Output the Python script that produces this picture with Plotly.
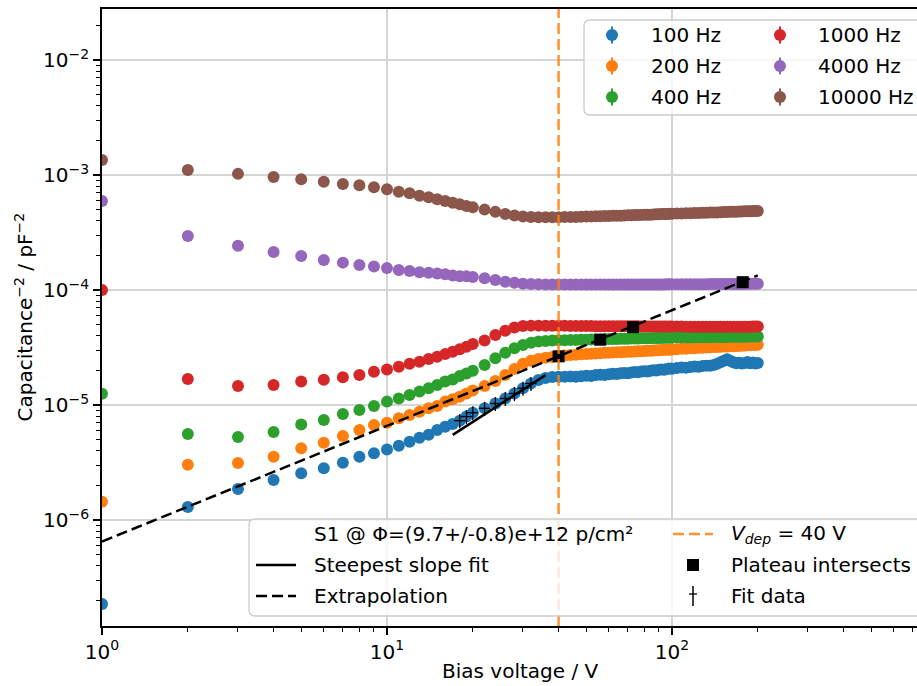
import plotly.graph_objects as go

# ---------------- data ----------------
VOLTAGE = [1, 2, 3, 4, 5, 6, 7, 8, 9, 10, 11, 12, 13, 14, 15, 16, 17, 18, 19, 20,
           22, 24, 26, 28, 30, 32, 34, 36, 38, 40,
           42, 44, 46, 48, 50, 52, 54, 56, 58, 60, 62, 64, 66, 68, 70, 72, 74, 76, 78, 80,
           82, 84, 86, 88, 90, 92, 94, 96, 98, 100,
           104, 108, 112, 116, 120, 124, 128, 132, 136, 140, 144, 148, 152, 156, 160, 164,
           168, 172, 176, 180, 184, 188, 192, 196, 200]

UNIT = 1e-6  # values below are in units of 1e-6 pF^-2

C_100 = [0.186, 1.30, 1.86, 2.23, 2.55, 2.82, 3.15, 3.55, 3.80, 4.11, 4.43, 4.79, 5.20, 5.50, 6.07, 6.47, 6.84, 7.31, 7.93, 8.57,
         9.35, 10.3, 11.4, 12.6, 14.0, 15.4, 16.5, 17.2, 17.5, 17.6,
         17.6, 17.7, 17.6, 17.8, 18.0, 17.9, 18.2, 18.3, 18.2, 18.5, 18.7, 18.6, 18.9, 19.0, 18.9, 19.2, 19.4, 19.3, 19.6, 19.7,
         19.6, 19.9, 20.1, 20.0, 20.3, 20.4, 20.3, 20.6, 20.8, 20.7,
         21.0, 21.2, 21.1, 21.4, 21.6, 21.5, 21.8, 22.0, 21.9, 22.3, 22.8, 23.5, 24.3, 25.0, 24.2, 23.5,
         23.1, 23.3, 22.9, 23.2, 23.6, 23.1, 23.4, 23.0, 23.2]

C_200 = [1.44, 3.02, 3.13, 3.55, 4.20, 4.70, 5.37, 6.07, 6.70, 7.01, 7.66, 8.18, 8.75, 9.35, 9.79, 10.7, 11.2, 11.8, 12.6, 13.4,
         14.6, 16.2, 18.2, 20.6, 22.8, 24.3, 25.1, 25.7, 26.2, 26.7,
         27.0, 27.2, 27.4, 27.6, 27.8, 27.9, 28.1, 28.2, 28.4, 28.5, 28.6, 28.7, 28.8, 28.9, 29.0, 29.1, 29.2, 29.3, 29.4, 29.5,
         29.6, 29.7, 29.8, 29.9, 30.0, 30.1, 30.2, 30.3, 30.3, 30.4,
         30.6, 30.8, 30.9, 31.1, 31.2, 31.4, 31.5, 31.7, 31.8, 31.9, 32.0, 32.1, 32.2, 32.3, 32.4, 32.5,
         32.6, 32.7, 32.8, 32.9, 33.0, 33.1, 33.2, 33.3, 33.4]

C_400 = [12.5, 5.60, 5.27, 5.82, 6.76, 7.41, 8.36, 9.06, 9.79, 10.7, 11.4, 12.2, 13.1, 14.0, 14.9, 16.0, 16.7, 17.9, 18.8, 19.9,
         22.3, 25.5, 28.5, 31.1, 33.3, 34.8, 35.6, 36.1, 36.3, 36.5,
         36.6, 36.7, 36.8, 36.9, 37.0, 37.1, 37.2, 37.2, 37.3, 37.4, 37.5, 37.5, 37.6, 37.7, 37.7, 37.8, 37.9, 37.9, 38.0, 38.0,
         38.1, 38.1, 38.2, 38.2, 38.3, 38.3, 38.4, 38.4, 38.5, 38.5,
         38.6, 38.6, 38.7, 38.7, 38.8, 38.8, 38.9, 38.9, 39.0, 39.0, 39.0, 39.1, 39.1, 39.1, 39.2, 39.2,
         39.2, 39.3, 39.3, 39.3, 39.4, 39.4, 39.4, 39.5, 39.5]

C_1000 = [100.0, 16.8, 14.6, 14.9, 16.0, 16.6, 17.4, 18.2, 19.5, 20.4, 21.5, 22.8, 23.8, 25.1, 26.3, 27.7, 29.0, 30.5, 32.1, 33.9,
          36.3, 40.7, 44.3, 47.3, 48.6, 49.0, 49.0, 48.9, 48.9, 48.8,
          48.8, 48.7, 48.7, 48.6, 48.6, 48.6, 48.5, 48.5, 48.5, 48.4, 48.4, 48.4, 48.4, 48.3, 48.3, 48.3, 48.3, 48.3, 48.2, 48.2,
          48.2, 48.2, 48.2, 48.2, 48.1, 48.1, 48.1, 48.1, 48.1, 48.1,
          48.1, 48.1, 48.0, 48.0, 48.0, 48.0, 48.0, 48.0, 48.0, 48.0, 48.0, 48.0, 48.0, 48.0, 48.0, 48.0,
          48.0, 48.0, 48.0, 48.0, 48.0, 48.0, 48.1, 48.1, 48.1]

C_4000 = [594, 295, 242, 214, 198, 182, 173, 165, 160, 155, 149, 146, 143, 141, 139, 137, 134, 132, 131.5, 130,
          126.5, 122, 118, 115.6, 113.5, 112.5, 112.0, 111.8, 111.7, 111.6,
          111.6, 111.6, 111.5, 111.5, 111.5, 111.5, 111.5, 111.5, 111.5, 111.5, 111.5, 111.6, 111.6, 111.6, 111.6, 111.6, 111.7, 111.7, 111.7, 111.7,
          111.8, 111.8, 111.8, 111.8, 111.9, 111.9, 111.9, 112.0, 112.0, 112.0,
          112.1, 112.1, 112.2, 112.2, 112.3, 112.3, 112.4, 112.4, 112.5, 112.5, 112.6, 112.6, 112.7, 112.7, 112.8, 112.8,
          112.9, 112.9, 113.0, 113.0, 113.1, 113.1, 113.2, 113.2, 113.3]

C_10000 = [1349, 1104, 1023, 962, 918, 875, 836, 813, 782, 752, 716, 693, 661, 640, 615, 594, 574, 556, 537, 524,
           500, 478, 459, 445, 436, 432, 430, 429, 429, 429,
           431, 432, 432, 434, 435, 436, 437, 438, 440, 440, 442, 443, 443, 445, 446, 447, 448, 449, 450, 451,
           452, 452, 454, 455, 456, 457, 457, 459, 460, 461,
           462, 463, 465, 466, 467, 468, 469, 470, 472, 472, 473, 475, 476, 477, 478, 479,
           480, 481, 482, 483, 484, 485, 486, 486, 487]

FREQ_LABELS = ["100 Hz", "200 Hz", "400 Hz", "1000 Hz", "4000 Hz", "10000 Hz"]
SERIES = [C_100, C_200, C_400, C_1000, C_4000, C_10000]
COLORS = ["#1f77b4", "#ff7f0e", "#2ca02c", "#d62728", "#9467bd", "#8c564b"]

# fit results
FIT_V = [17, 36]                 # steepest slope fit line ends (V)
FIT_C = [5.5e-6, 1.82e-5]        # pF^-2
EXTRAP_V = [1, 200]
EXTRAP_C = [6.5e-7, 1.34e-4]
PLATEAU_V = [40, 56, 73, 177]
PLATEAU_C = [2.65e-5, 3.7e-5, 4.75e-5, 1.17e-4]
FIT_DATA_RANGE = (18, 32)        # V range of blue points used in fit
FIT_DATA_ERR_PCT = 14
V_DEP = 40

X_RANGE = [0.0, 2.8596]
Y_RANGE = [-6.9217, -1.5565]

TITLE_TEXT = "S1 @ \u03a6=(9.7+/-0.8)e+12 p/cm\u00b2"

FONT = "DejaVu Sans"
FS = 20

for s in SERIES:
    assert len(s) == len(VOLTAGE)

fig = go.Figure()

for label, vals, col in zip(FREQ_LABELS, SERIES, COLORS):
    fig.add_trace(go.Scatter(
        x=VOLTAGE, y=[v * UNIT for v in vals], mode="markers", name=label,
        marker=dict(color=col, size=12, line=dict(width=0)), showlegend=False))

# steepest slope fit
fig.add_trace(go.Scatter(x=FIT_V, y=FIT_C, mode="lines",
                         line=dict(color="black", width=2.5), showlegend=False))
# extrapolation
fig.add_trace(go.Scatter(x=EXTRAP_V, y=EXTRAP_C, mode="lines",
                         line=dict(color="black", width=2.5, dash="11px,5px"), showlegend=False))
# fit data
fx_d = [v for v in VOLTAGE if FIT_DATA_RANGE[0] <= v <= FIT_DATA_RANGE[1]]
fy_d = [c * UNIT for v, c in zip(VOLTAGE, C_100) if FIT_DATA_RANGE[0] <= v <= FIT_DATA_RANGE[1]]
fig.add_trace(go.Scatter(x=fx_d, y=fy_d, mode="markers",
                         marker=dict(symbol="line-ew-open", size=8, color="black",
                                     line=dict(color="black", width=1.3)),
                         error_y=dict(type="percent", value=FIT_DATA_ERR_PCT, color="black",
                                      thickness=1.3, width=0),
                         showlegend=False))
# plateau intersects
fig.add_trace(go.Scatter(x=PLATEAU_V, y=PLATEAU_C, mode="markers",
                         marker=dict(symbol="square", size=12, color="black"), showlegend=False))
# depletion voltage line
fig.add_trace(go.Scatter(x=[V_DEP, V_DEP], y=[10 ** Y_RANGE[0], 10 ** Y_RANGE[1]], mode="lines",
                         line=dict(color="rgba(255,127,14,0.85)", width=2.5, dash="11px,5px"),
                         showlegend=False))

# ---------------- layout ----------------
W, H = 917, 686
PL, PR, PT, PB = 102, 917, 9, 626


def fx(px):
    return (px - PL) / (PR - PL)


def fy(py):
    return (PB - py) / (PB - PT)


MINUS = "\u2212"
x_tickvals = [10 ** e for e in range(0, 3)]
x_ticktext = ["10<sup>%d</sup>" % e for e in range(0, 3)]
y_tickvals = [10 ** e for e in range(-6, -1)]
y_ticktext = ["10<sup>%s%d</sup>" % (MINUS, -e) for e in range(-6, -1)]
x_minor = [m * 10 ** e for e in range(0, 3) for m in range(2, 10)]
y_minor = [m * 10.0 ** e for e in range(-7, -1) for m in range(2, 10)]

axis_common = dict(
    type="log", showgrid=True, gridcolor="#d5d5d5", gridwidth=1.5,
    showline=True, linecolor="black", linewidth=1.6,
    ticks="outside", ticklen=7, tickwidth=1.6, tickcolor="black",
    tickfont=dict(family=FONT, size=FS, color="black"),
    zeroline=False, tickmode="array",
)

fig.update_layout(
    width=W, height=H, autosize=False,
    margin=dict(l=PL, r=W - PR, t=PT, b=H - PB, pad=0),
    paper_bgcolor="white", plot_bgcolor="white",
    showlegend=False,
    font=dict(family=FONT, size=FS, color="black"),
    xaxis=dict(range=X_RANGE, tickvals=x_tickvals, ticktext=x_ticktext, mirror=True,
               minor=dict(tickvals=x_minor, ticks="outside", ticklen=4, tickwidth=1.2,
                          tickcolor="black", showgrid=False),
               **axis_common),
    yaxis=dict(range=Y_RANGE, tickvals=y_tickvals, ticktext=y_ticktext, mirror=False,
               minor=dict(tickvals=y_minor, ticks="outside", ticklen=4, tickwidth=1.2,
                          tickcolor="black", showgrid=False),
               **axis_common),
)

shapes = []
annotations = []


def rrect(x0, y0, x1, y1, r):
    pts = [("M", x0 + r, y0), ("L", x1 - r, y0), ("Q", x1, y0, x1, y0 + r), ("L", x1, y1 - r),
           ("Q", x1, y1, x1 - r, y1), ("L", x0 + r, y1), ("Q", x0, y1, x0, y1 - r),
           ("L", x0, y0 + r), ("Q", x0, y0, x0 + r, y0)]
    s = ""
    for p in pts:
        cmd = p[0]
        coords = p[1:]
        parts = []
        for i in range(0, len(coords), 2):
            parts.append("%.5f,%.5f" % (fx(coords[i]), fy(coords[i + 1])))
        s += cmd + " ".join(parts) + " "
    return s + "Z"


def box(x0, y0, x1, y1):
    shapes.append(dict(type="path", xref="paper", yref="paper", path=rrect(x0, y0, x1, y1, 6),
                       fillcolor="rgba(255,255,255,0.8)", line=dict(color="#cccccc", width=1.3),
                       layer="above"))


def hline(x0, x1, y, color, width, dash="solid"):
    shapes.append(dict(type="line", xref="paper", yref="paper", x0=fx(x0), x1=fx(x1),
                       y0=fy(y), y1=fy(y), line=dict(color=color, width=width, dash=dash),
                       layer="above"))


def vline(x, y0, y1, color, width):
    shapes.append(dict(type="line", xref="paper", yref="paper", x0=fx(x), x1=fx(x),
                       y0=fy(y0), y1=fy(y1), line=dict(color=color, width=width), layer="above"))


def text(x, y, t):
    annotations.append(dict(xref="paper", yref="paper", x=fx(x), y=fy(y), text=t,
                            showarrow=False, xanchor="left", yanchor="middle",
                            font=dict(family=FONT, size=FS, color="black")))


# upper-right legend (frequencies)
box(584, 20, 945, 115)
ul_gx = [612, 780]
ul_tx = [649, 816]
ul_rows = [35, 66, 97]
for i, (label, col) in enumerate(zip(FREQ_LABELS, COLORS)):
    c, r = divmod(i, 3)
    gx, gy = ul_gx[c], ul_rows[r]
    vline(gx, gy - 8.5, gy + 8.5, col, 2)
    shapes.append(dict(type="circle", xref="paper", yref="paper", x0=fx(gx - 6), x1=fx(gx + 6),
                       y0=fy(gy + 6), y1=fy(gy - 6), fillcolor=col, line=dict(width=0),
                       layer="above"))
    text(ul_tx[c], gy, label)

# lower legend (fit info)
box(249, 519, 945, 616)
ll_rows = [534, 565, 596]
text(312, ll_rows[0], TITLE_TEXT)
hline(256, 296, ll_rows[1], "black", 2.5)
text(312, ll_rows[1], "Steepest slope fit")
hline(256, 296, ll_rows[2], "black", 2.5, "11px,5px")
text(312, ll_rows[2], "Extrapolation")
hline(673, 713, ll_rows[0], "rgba(255,127,14,0.85)", 2.5, "11px,5px")
text(729, ll_rows[0], "<i>V</i><sub><i>dep</i></sub> = 40 V")
shapes.append(dict(type="rect", xref="paper", yref="paper", x0=fx(687), x1=fx(699),
                   y0=fy(ll_rows[1] + 6), y1=fy(ll_rows[1] - 6), fillcolor="black",
                   line=dict(width=0), layer="above"))
text(729, ll_rows[1], "Plateau intersects")
vline(693, ll_rows[2] - 10, ll_rows[2] + 10, "black", 1.5)
hline(689, 697, ll_rows[2] - 2, "black", 1.3)
text(729, ll_rows[2], "Fit data")

# axis titles
annotations.append(dict(xref="paper", yref="paper", x=fx(520), y=fy(671), text="Bias voltage / V",
                        showarrow=False, xanchor="center", yanchor="middle",
                        font=dict(family=FONT, size=FS, color="black")))
annotations.append(dict(xref="paper", yref="paper", x=fx(23), y=0.5,
                        text="Capacitance<sup>" + MINUS + "2</sup> / pF<sup>" + MINUS + "2</sup>",
                        showarrow=False, xanchor="center", yanchor="middle", textangle=-90,
                        font=dict(family=FONT, size=FS, color="black")))

fig.update_layout(shapes=shapes, annotations=annotations)

fig.write_html("out.html")
